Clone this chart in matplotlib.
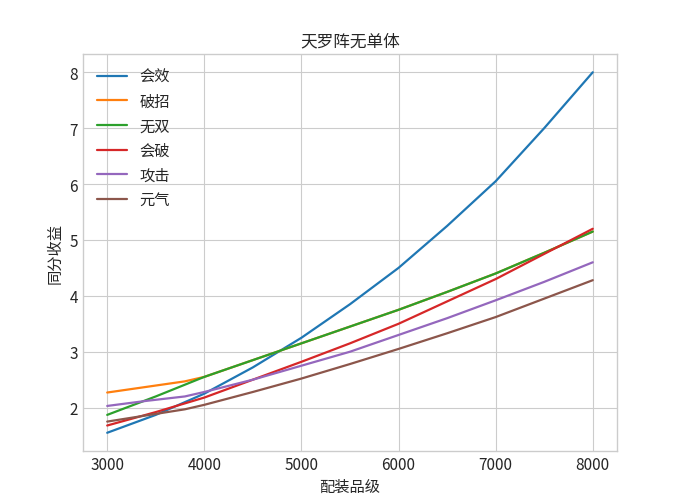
import matplotlib
matplotlib.use("Agg")
import matplotlib.pyplot as plt

plt.style.use("seaborn-v0_8-whitegrid")
plt.rcParams['font.family'] = ['Noto Sans CJK SC', 'DejaVu Sans']
plt.rcParams['axes.unicode_minus'] = False
plt.rcParams['lines.linewidth'] = 1.6

x_main = [3000, 3500, 4000, 4500, 5000, 5500, 6000, 6500, 7000, 7500, 8000]
x_knee = [3000, 3400, 3800, 4000, 4500, 5000, 5500, 6000, 6500, 7000, 7500, 8000]

huixiao = [1.55, 1.87, 2.25, 2.72, 3.25, 3.85, 4.5, 5.25, 6.05, 7.0, 8.0]
pozhao = [2.27, 2.37, 2.47, 2.55, 2.85, 3.15, 3.45, 3.75, 4.07, 4.4, 4.77, 5.15]
wushuang = [1.87, 2.2, 2.55, 2.85, 3.15, 3.45, 3.75, 4.07, 4.4, 4.77, 5.15]
huipo = [1.68, 1.92, 2.18, 2.5, 2.82, 3.15, 3.5, 3.9, 4.3, 4.75, 5.2]
gongji = [2.03, 2.12, 2.2, 2.28, 2.5, 2.75, 3.0, 3.3, 3.6, 3.92, 4.25, 4.6]
yuanqi = [1.75, 1.86, 1.97, 2.05, 2.28, 2.52, 2.78, 3.05, 3.33, 3.62, 3.95, 4.28]

fig = plt.figure(figsize=(6.91, 5.02), dpi=100)
ax = fig.add_axes([0.12, 0.10, 0.773, 0.79])
ax.plot(x_main, huixiao, color="#1f77b4", label="会效")
ax.plot(x_knee, pozhao, color="#ff7f0e", label="破招")
ax.plot(x_main, wushuang, color="#2ca02c", label="无双")
ax.plot(x_main, huipo, color="#d62728", label="会破")
ax.plot(x_knee, gongji, color="#9467bd", label="攻击")
ax.plot(x_knee, yuanqi, color="#8c564b", label="元气")

ax.set_title("天罗阵无单体", fontsize=12)
ax.set_xlabel("配装品级", fontsize=11)
ax.set_ylabel("同分收益", fontsize=11)
ax.set_xticks([3000, 4000, 5000, 6000, 7000, 8000])
ax.tick_params(labelsize=11)
for s in ax.spines.values():
    s.set_visible(True)
    s.set_color("#cccccc")
ax.legend(loc="upper left", fontsize=11, frameon=False)
fig.savefig("out.png", dpi=100)
